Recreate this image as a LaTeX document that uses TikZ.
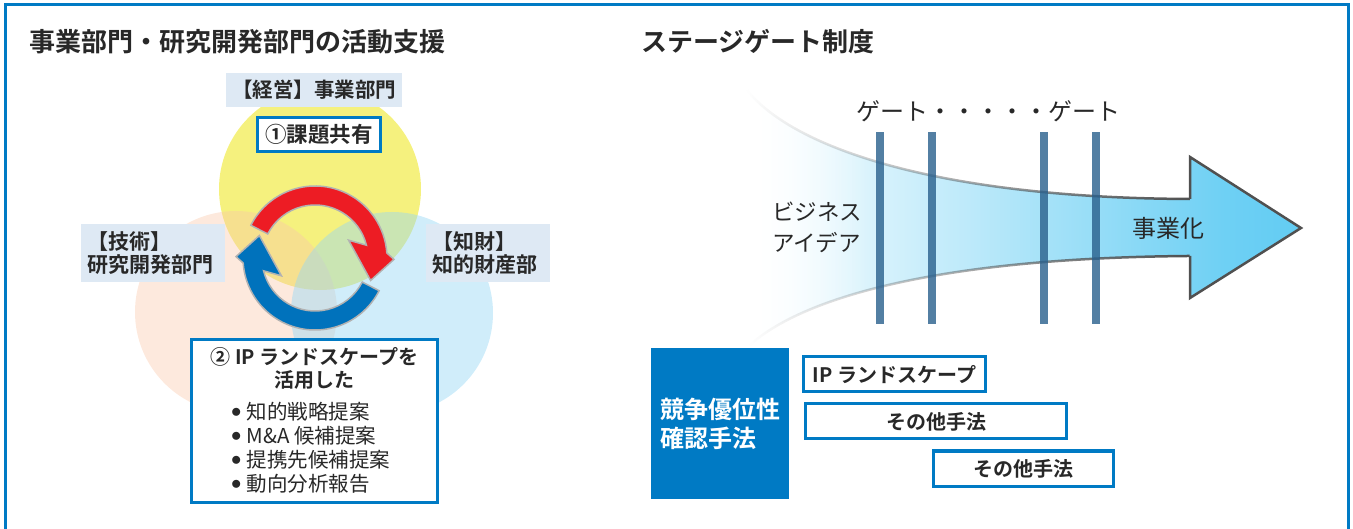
\documentclass[tikz,border=0pt]{standalone}
\usepackage{fontspec}
\setmainfont{Noto Sans CJK JP}[BoldFont={Noto Sans CJK JP Bold}]
\usepackage{tikz}
\usetikzlibrary{positioning, fadings}
\definecolor{mainblue}{RGB}{0,122,196}
\definecolor{textgray}{RGB}{40,40,40}
\definecolor{tagfill}{RGB}{222,233,244}
\definecolor{circyellow}{RGB}{236,230,20}
\definecolor{circpeach}{RGB}{250,200,170}
\definecolor{circblue}{RGB}{150,215,245}
\definecolor{cyclered}{RGB}{237,28,36}
\definecolor{cycleblue}{RGB}{0,114,188}
\definecolor{arrowcyan}{RGB}{98,204,243}
\definecolor{gatecolor}{RGB}{40,95,140}
\definecolor{edgegray}{RGB}{80,80,80}
\tikzfading[name=edgefade, left color=transparent!100, middle color=transparent!35, right color=transparent!0]
\pgfdeclarehorizontalshading{fillfadeshade}{100bp}{color(0bp)=(transparent!100); color(25bp)=(transparent!100); color(36bp)=(transparent!0); color(100bp)=(transparent!0)}
\tikzfading[name=fillfade, shading=fillfadeshade]
\pgfdeclarehorizontalshading{funnelshade}{100bp}{color(0bp)=(white); color(25bp)=(white); color(35bp)=(arrowcyan!22); color(45bp)=(arrowcyan!42); color(58bp)=(arrowcyan!70); color(68bp)=(arrowcyan!92); color(75bp)=(arrowcyan); color(100bp)=(arrowcyan)}
\newcommand{\itemdot}{\raisebox{2.5pt}{$\bullet$}\hspace{5pt}}

\begin{document}
\begin{tikzpicture}[
    x=1pt, y=1pt,
    heading/.style={anchor=west, inner sep=0pt, text=textgray, font=\bfseries\fontsize{26}{30}\selectfont},
    tag/.style={fill=tagfill, text=textgray, inner sep=0pt, font=\bfseries\fontsize{20.5}{23}\selectfont},
    bluebox/.style={draw=mainblue, line width=3pt, fill=white, text=textgray, inner sep=0pt},
    method/.style={bluebox, minimum height=35pt, font=\bfseries\fontsize{20}{24}\selectfont},
    cyclearrow/.style={draw=gray!60, line width=1.5pt, line join=miter},
    gate/.style={fill=gatecolor, fill opacity=0.8, minimum width=8pt, minimum height=192pt, inner sep=0pt},
    plain/.style={text=textgray, inner sep=0pt}
]
    \useasboundingbox (0,0) rectangle (1353,528);

    % Frame
    \draw[mainblue, line width=3pt] (5,-5) -- (5,523) -- (1348,523) -- (1348,-5);

    % Titles
    \node[heading] (lefttitle) at (29,486) {事業部門・研究開発部門の活動支援};
    \node[heading] (righttitle) at (641,486) {ステージゲート制度};

    % Venn circles
    \fill[circyellow, fill opacity=0.55] (320,339) circle (101);
    \fill[circpeach, fill opacity=0.4] (236,216) circle (101);
    \fill[circblue, fill opacity=0.45] (392,215) circle (101);

    % Departments
    \node[tag, minimum width=176pt, minimum height=34pt] (mgmt) at (314,438) {【経営】事業部門};
    \node[tag, minimum width=144pt, minimum height=58pt, align=left, text width=132pt,
          font=\bfseries\fontsize{21}{23}\selectfont] (tech) at (153,275) {【技術】\\研究開発部門};
    \node[tag, minimum width=124pt, minimum height=58pt, align=left, text width=112pt,
          font=\bfseries\fontsize{21}{23}\selectfont] (ipdept) at (488,275) {【知財】\\知的財産部};
    \node[bluebox, minimum width=123pt, minimum height=34pt, font=\bfseries\fontsize{21.5}{24}\selectfont] (issue) at (319,393.5) {①課題共有};

    % Cycle arrows
    \coordinate (cyc) at (315,270);
    \draw[cyclearrow, fill=cycleblue, shift={(cyc)}] (-27:72pt) arc[start angle=-27, end angle=-176, radius=72pt]
        -- (179:79pt) -- (158:60pt) -- (208:38pt) -- (194:53pt) arc[start angle=194, end angle=333, radius=53pt] -- cycle;
    \draw[cyclearrow, fill=cyclered, shift={(cyc)}] (153:72pt) arc[start angle=153, end angle=4, radius=72pt]
        -- (-1:79pt) -- (-22:60pt) -- (28:38pt) -- (14:53pt) arc[start angle=14, end angle=153, radius=53pt] -- cycle;

    % IP landscape box
    \node[bluebox, minimum width=246pt, minimum height=163pt] (landscape) at (314.5,107) {};
    \node[plain, align=center, font=\bfseries\fontsize{20}{22.5}\selectfont] (lshead) at (314.5,159.5) {② IP ランドスケープを\\活用した};
    \node[plain, align=left, anchor=west, font=\fontsize{20.5}{24}\selectfont] (lslist) at (231,80)
        {\itemdot 知的戦略提案\\\itemdot M\&A 候補提案\\\itemdot 提携先候補提案\\\itemdot 動向分析報告};

    % Stage gate funnel
    \shade[shading=funnelshade, path fading=fillfade] (747,438) .. controls (790,383) and (930,330) .. (1190,329)
        -- (1190,371) -- (1301,300) -- (1190,230) -- (1190,272) .. controls (930,270) and (800,228) .. (750,183) -- cycle;
    \draw[edgegray, line width=2.5pt, path fading=edgefade] (747,438) .. controls (790,383) and (930,330) .. (1190,329);
    \draw[edgegray, line width=2.5pt, path fading=edgefade] (750,183) .. controls (800,228) and (930,270) .. (1190,272);
    \draw[edgegray, line width=2.5pt, line join=miter] (1190,329) -- (1190,371) -- (1301,300) -- (1190,230) -- (1190,272);

    % Gates
    \foreach \gx [count=\i] in {880,932,1044,1096}
        \node[gate] (gate\i) at (\gx,300) {};
    \node[plain, font=\fontsize{24}{28}\selectfont] (gatelabel) at (988,417) {ゲート・・・・・ゲート};
    \node[plain, align=left, font=\fontsize{22.5}{31}\selectfont] (idea) at (817,300.5) {ビジネス\\アイデア};
    \node[plain, font=\fontsize{24}{28}\selectfont] (business) at (1168,300) {事業化};

    % Methods
    \node[fill=mainblue, minimum width=138pt, minimum height=151pt, text=white, align=left,
          font=\bfseries\fontsize{24}{29}\selectfont] (compete) at (720,104.5) {競争優位性\\確認手法};
    \node[method, minimum width=182pt] (ipbox) at (894.5,153.5) {IP ランドスケープ};
    \node[method, minimum width=261pt] (otherone) at (936,106.5) {その他手法};
    \node[method, minimum width=180pt] (othertwo) at (1023.5,59.5) {その他手法};
\end{tikzpicture}
\end{document}
